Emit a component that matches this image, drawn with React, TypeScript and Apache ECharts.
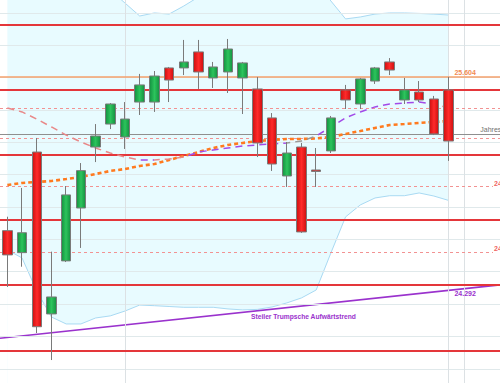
import React, { useEffect, useRef } from "react";
import * as echarts from "echarts";

// ---- data ----
const CATEGORIES = [
  "T01", "T02", "T03", "T04", "T05", "T06", "T07", "T08", "T09", "T10",
  "T11", "T12", "T13", "T14", "T15", "T16", "T17", "T18", "T19", "T20",
  "T21", "T22", "T23", "T24", "T25", "T26", "T27", "T28", "T29", "T30", "T31",
];
const PAD_CATEGORIES = ["", "", ""];

const OPEN = [24654, 24518, 25140, 24139, 24467, 24794, 25171, 25313, 25233, 25449, 25449, 25660, 25660, 25759, 25598, 25635, 25598, 25530, 25351, 24992, 25171, 25029, 25147, 25524, 25437, 25579, 25697, 25462, 25511, 25468, 25524];
const CLOSE = [24504, 24641, 24060, 24244, 24875, 25025, 25239, 25437, 25344, 25555, 25610, 25585, 25697, 25635, 25666, 25777, 25691, 25196, 25066, 25134, 24646, 25020, 25351, 25462, 25592, 25660, 25647, 25524, 25462, 25252, 25208];
const LOW = [24306, 24431, 24021, 23854, 24460, 24547, 25078, 25282, 25159, 25369, 25388, 25449, 25616, 25530, 25536, 25505, 25375, 25109, 25023, 24924, 24640, 24924, 25134, 25406, 25406, 25561, 25616, 25437, 25449, 25245, 25085];
const HIGH = [24740, 24918, 25227, 24524, 24930, 25072, 25313, 25443, 25449, 25623, 25641, 25666, 25833, 25833, 25697, 25839, 25697, 25604, 25381, 25202, 25196, 25165, 25363, 25555, 25598, 25666, 25721, 25598, 25579, 25487, 25604];

const MA_SHORT = [25412, 25388, 25344, 25295, 25245, 25202, 25165, 25134, 25109, 25091, 25091, 25097, 25109, 25140, 25153, 25165, 25177, 25184, 25190, 25196, 25208, 25239, 25295, 25351, 25388, 25419, 25437, 25443, 25449, 25437, 25412];
const MA_LONG = [24936, 24949, 24955, 24961, 24973, 24986, 25004, 25023, 25035, 25054, 25066, 25091, 25116, 25140, 25165, 25184, 25196, 25208, 25215, 25221, 25221, 25224, 25233, 25252, 25270, 25289, 25307, 25313, 25320, 25326, 25332];

const BB_UPPER = [26290, 26290, 26408, 26469, 26414, 26327, 26216, 26142, 26061, 25981, 26000, 25993, 26043, 26099, 26123, 26160, 26191, 26204, 26197, 26185, 26179, 26191, 26074, 25963, 25975, 25993, 26000, 26000, 25997, 25993, 25987];
const BB_LOWER = [24535, 24485, 24281, 24120, 24077, 24077, 24114, 24127, 24157, 24194, 24190, 24185, 24180, 24180, 24180, 24170, 24164, 24167, 24182, 24207, 24238, 24287, 24516, 24739, 24813, 24856, 24870, 24870, 24887, 24868, 24841];

const GRID_LEVELS = [23800, 24000, 24200, 24400, 24600, 24800, 25000, 25200, 25400, 25600, 25800, 26000];
const RED_LEVELS = [25925, 25528, 25126, 24720, 24318, 23910];
const DASHED_LEVELS = [25410, 25225];
const DASHED_LABELED_LEVELS = [24930, 24522];
const DASHED_LABELS = ["24.930", "24.522"];
const YEAR_LEVEL = 25252;
const YEAR_LABEL = "Jahresschluss";
const ORANGE_LEVEL = 25604;
const ORANGE_LABEL = "25.604";
const TREND = [[-0.5, 23989], [33.5, 24319]];
const TREND_VALUE = 24292;
const TREND_VALUE_LABEL = "24.292";
const TREND_NAME = "Steiler Trumpsche Aufwärtstrend";
const VERTICAL_MARKS = [8, 30, 31.05];

// ---- styling ----
const FONT = "Liberation Sans, Arial, sans-serif";
const FALL = "#e98888";
const RISE = "#a24ae8";
const FLAT = "#9a9a9a";
const PURPLE = "#9a32cd";
const ORANGE = "#f5a06c";

export default function App() {
  const ref = useRef<HTMLDivElement>(null);

  useEffect(() => {
    if (!ref.current) return;
    const chart = echarts.init(ref.current, null, { renderer: "svg" });

    const candles = OPEN.map((o, i) => [o, CLOSE[i], LOW[i], HIGH[i]]);

    const markData: any[] = [];
    GRID_LEVELS.forEach((v) =>
      markData.push({ yAxis: v, lineStyle: { color: "#e0e9eb", width: 1, type: "solid" } })
    );
    VERTICAL_MARKS.forEach((v) =>
      markData.push({ xAxis: v, lineStyle: { color: "#dce1e4", width: 1, type: "solid" } })
    );
    DASHED_LEVELS.forEach((v) =>
      markData.push({ yAxis: v, lineStyle: { color: "#f29292", width: 1, type: [3, 3] } })
    );
    DASHED_LABELED_LEVELS.forEach((v) =>
      markData.push([
        { coord: [-0.5, v], lineStyle: { color: "#f29292", width: 1, type: [3, 3] } },
        { coord: [33.02, v] },
      ])
    );
    markData.push({ yAxis: YEAR_LEVEL, lineStyle: { color: "#8f8f8f", width: 1, type: "solid" } });
    markData.push({ yAxis: ORANGE_LEVEL, lineStyle: { color: ORANGE, width: 1.6, type: "solid" } });
    RED_LEVELS.forEach((v) =>
      markData.push({ yAxis: v, lineStyle: { color: "#e4363a", width: 2, type: "solid" } })
    );

    const upGrad = new echarts.graphic.LinearGradient(0, 0, 1, 0, [
      { offset: 0, color: "#149040" },
      { offset: 0.5, color: "#2cc45c" },
      { offset: 1, color: "#149040" },
    ]);
    const downGrad = new echarts.graphic.LinearGradient(0, 0, 1, 0, [
      { offset: 0, color: "#cc1010" },
      { offset: 0.5, color: "#ff2a2a" },
      { offset: 1, color: "#cc1010" },
    ]);

    const option: any = {
      animation: false,
      backgroundColor: "#ffffff",
      grid: { left: -2, right: -2, top: 0, bottom: 0 },
      xAxis: [
        { type: "category", data: [...CATEGORIES, ...PAD_CATEGORIES], boundaryGap: true, show: false },
        { type: "value", min: -0.5, max: 33.5, show: false },
      ],
      yAxis: { type: "value", min: 23712, max: 26080, show: false, splitLine: { show: false } },
      visualMap: [
        {
          type: "piecewise",
          show: false,
          dimension: 0,
          seriesIndex: 4,
          pieces: [
            { lt: 8.7, color: FALL },
            { gte: 8.7, lt: 9.6, color: RISE },
            { gte: 9.6, lt: 11.5, color: FALL },
            { gte: 11.5, lt: 18.7, color: RISE },
            { gte: 18.7, lt: 20.7, color: FLAT },
            { gte: 20.7, lt: 28.6, color: RISE },
            { gte: 28.6, color: FALL },
          ],
        },
      ],
      series: [
        {
          name: "BB oben",
          type: "line",
          data: BB_UPPER,
          symbol: "none",
          silent: true,
          z: 1,
          lineStyle: { color: "#a9daf3", width: 1 },
          areaStyle: { color: "#e8fbff", opacity: 1, origin: "start" },
        },
        {
          name: "BB unten",
          type: "line",
          data: BB_LOWER,
          symbol: "none",
          silent: true,
          z: 2,
          lineStyle: { color: "#a9daf3", width: 1 },
          areaStyle: { color: "#ffffff", opacity: 1, origin: "start" },
        },
        {
          name: "Trend",
          type: "line",
          xAxisIndex: 1,
          data: TREND,
          symbol: "none",
          silent: true,
          z: 3,
          lineStyle: { color: PURPLE, width: 1.6 },
          markLine: {
            silent: true,
            symbol: ["none", "none"],
            label: { show: false },
            data: markData,
          },
        },
        {
          name: "MA lang",
          type: "line",
          data: MA_LONG,
          symbol: "none",
          silent: true,
          z: 5,
          lineStyle: { color: "#ff7a1f", width: 2.6, type: [4, 3] },
        },
        {
          name: "MA kurz",
          type: "line",
          data: MA_SHORT,
          symbol: "none",
          silent: true,
          z: 5,
          lineStyle: { width: 1.5, type: [7, 5] },
        },
        {
          name: "Kurs",
          type: "candlestick",
          data: candles,
          barWidth: 10,
          silent: true,
          z: 6,
          itemStyle: {
            color: upGrad,
            color0: downGrad,
            borderColor: "#7a7a7a",
            borderColor0: "#7a7a7a",
            borderWidth: 1,
          },
        },
      ],
    };

    chart.setOption(option);

    const toPx = (p: number[]) => chart.convertToPixel({ seriesIndex: 2 }, p) as number[];
    const t0 = toPx(TREND[0]);
    const t1 = toPx(TREND[1]);
    const trendYAt = (x: number) => t0[1] + ((x - t0[0]) / (t1[0] - t0[0])) * (t1[1] - t0[1]);

    const text = (x: number, y: number, s: string, fill: string, va: string, size = 7) => ({
      type: "text",
      x,
      y,
      silent: true,
      z: 100,
      style: { text: s, fill, fontSize: size, fontWeight: "bold", fontFamily: FONT, align: "left", verticalAlign: va },
    });

    const orangeP = toPx([30.4, ORANGE_LEVEL]);
    const trendValP = toPx([30.4, TREND_VALUE]);
    const yearP = toPx([32.16, YEAR_LEVEL]);
    const nameX = toPx([16.57, TREND_VALUE])[0];
    const elements: any[] = [
      text(orangeP[0], orangeP[1] - 0.5, ORANGE_LABEL, "#f28a52", "bottom"),
      text(trendValP[0], trendValP[1] + 1, TREND_VALUE_LABEL, PURPLE, "top"),
      text(nameX, trendYAt(nameX) + 1.5, TREND_NAME, PURPLE, "top", 6.7),
      { ...text(yearP[0], yearP[1] - 0.5, YEAR_LABEL, "#707070", "bottom"), style: { text: YEAR_LABEL, fill: "#707070", fontSize: 7, fontFamily: FONT, align: "left", verticalAlign: "bottom" } },
    ];
    DASHED_LABELED_LEVELS.forEach((v, i) => {
      const p = toPx([33.1, v]);
      elements.push(text(p[0], p[1] + 0.5, DASHED_LABELS[i], "#f06464", "bottom"));
    });
    chart.setOption({ graphic: elements });

    return () => chart.dispose();
  }, []);

  return (
    <div
      ref={ref}
      style={{ position: "fixed", left: 0, top: 0, width: 500, height: 383 }}
    />
  );
}
